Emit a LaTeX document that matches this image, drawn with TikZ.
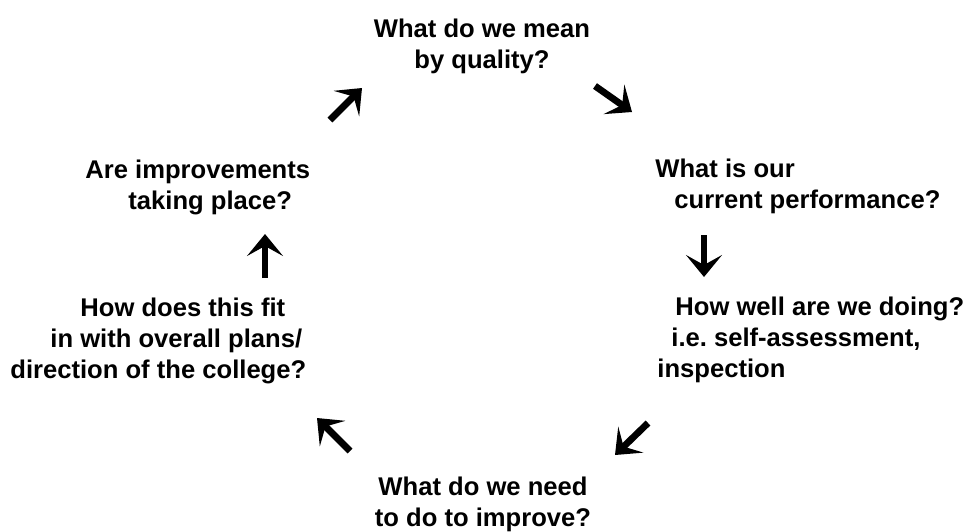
\documentclass[tikz,border=0pt]{standalone}
\usepackage{fontspec}
\setmainfont{Liberation Sans}
\usetikzlibrary{arrows.meta}

\begin{document}
\begin{tikzpicture}[x=0.5pt,y=-0.5pt,
    question/.style={font=\bfseries\fontsize{12.8}{15.5}\selectfont,
      inner sep=0pt,align=left,anchor=base west},
    cycarrow/.style={line width=3.4pt,-{Stealth[length=11pt,width=18pt,inset=5pt]}}]
  \useasboundingbox (0,0) rectangle (968,531);
  % questions, clockwise from the top (placed by their last line)
  \node[question,align=center,anchor=base] (quality) at (482,68)
    {What do we mean\\by quality?};
  \node[question] (current) at (655,208)
    {What is our\\\hspace*{9.5pt}current performance?};
  \node[question] (doing) at (657,377)
    {\hspace*{9pt}How well are we doing?\\\hspace*{7pt}i.e.\ self-assessment,\\inspection};
  \node[question,align=center,anchor=base] (improve) at (483,526)
    {What do we need\\to do to improve?};
  \node[question] (fit) at (10,378)
    {\hspace*{35pt}How does this fit\\\hspace*{20pt}in with overall plans/\\direction of the college?};
  \node[question] (taking) at (85,209)
    {Are improvements\\\hspace*{21.5pt}taking place?};
  % short arrows between the questions
  \coordinate (q-c1) at (595,86);  \coordinate (q-c2) at (632,112);
  \coordinate (c-d1) at (704,235); \coordinate (c-d2) at (704,277);
  \coordinate (d-i1) at (648,423); \coordinate (d-i2) at (615,455);
  \coordinate (i-f1) at (350,451); \coordinate (i-f2) at (317,418);
  \coordinate (f-t1) at (265,278); \coordinate (f-t2) at (265,234);
  \coordinate (t-q1) at (330,120); \coordinate (t-q2) at (362,88);
  \foreach \a/\b in {q-c1/q-c2,c-d1/c-d2,d-i1/d-i2,i-f1/i-f2,f-t1/f-t2,t-q1/t-q2}
    \draw[cycarrow] (\a) -- (\b);
\end{tikzpicture}
\end{document}
